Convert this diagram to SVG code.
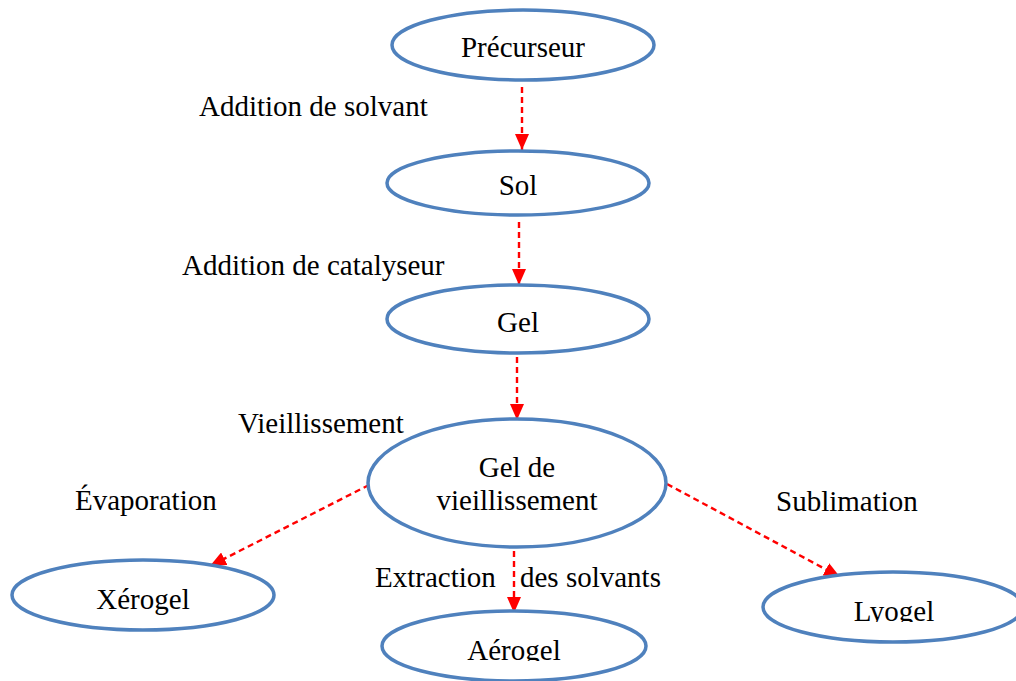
<svg xmlns="http://www.w3.org/2000/svg" width="1016" height="681" viewBox="0 0 1016 681">
  <style>
    .node { fill: #ffffff; stroke: #4f81bd; stroke-width: 3.5; }
    .lbl { font-family: "Liberation Serif", "Times New Roman", serif; font-size: 29px; fill: #000000; }
    .mid { text-anchor: middle; }
    .edge { fill: none; stroke: #ff0000; stroke-width: 2.4; stroke-dasharray: 6 4; marker-end: url(#head); }
  </style>
  <defs>
    <marker id="head" viewBox="0 0 16 14" refX="16" refY="7" markerWidth="16" markerHeight="14" markerUnits="userSpaceOnUse" orient="auto">
      <path d="M0,0 L16,7 L0,14 Z" fill="#ff0000"/>
    </marker>
    <!-- text boxes that cut off descenders -->
    <clipPath id="clipAero"><rect x="380" y="600" width="270" height="61"/></clipPath>
    <clipPath id="clipLyo"><rect x="760" y="560" width="260" height="62"/></clipPath>
  </defs>
  <rect width="1016" height="681" fill="#ffffff"/>

  <g id="connectors">
    <line class="edge" x1="522" y1="87" x2="522" y2="150"/>
    <line class="edge" x1="519" y1="222" x2="519" y2="285"/>
    <line class="edge" x1="517" y1="357" x2="517" y2="420"/>
    <line class="edge" x1="369" y1="485" x2="210" y2="566"/>
    <line class="edge" x1="514" y1="551" x2="514" y2="613"/>
    <line class="edge" x1="667" y1="484" x2="840" y2="577"/>
  </g>

  <g id="labels">
    <text class="lbl" x="199" y="116">Addition de solvant</text>
    <text class="lbl" x="182" y="275">Addition de catalyseur</text>
    <text class="lbl" x="238" y="433">Vieillissement</text>
    <text class="lbl" x="75" y="510">Évaporation</text>
    <text class="lbl" x="776" y="511">Sublimation</text>
    <text class="lbl" x="375" y="587">Extraction</text>
    <text class="lbl" x="520" y="587">des solvants</text>
  </g>

  <g id="precurseur">
    <ellipse class="node" cx="523" cy="45" rx="131" ry="35"/>
    <text class="lbl mid" x="523" y="57">Précurseur</text>
  </g>
  <g id="sol">
    <ellipse class="node" cx="518" cy="183" rx="131" ry="32"/>
    <text class="lbl mid" x="518" y="195">Sol</text>
  </g>
  <g id="gel">
    <ellipse class="node" cx="518" cy="319" rx="131" ry="34"/>
    <text class="lbl mid" x="518" y="332">Gel</text>
  </g>
  <g id="gel-vieillissement">
    <ellipse class="node" cx="517" cy="483" rx="149" ry="64"/>
    <text class="lbl mid" x="517" y="477">Gel de</text>
    <text class="lbl mid" x="517" y="510">vieillissement</text>
  </g>
  <g id="xerogel">
    <ellipse class="node" cx="143" cy="595" rx="131" ry="35"/>
    <text class="lbl mid" x="143" y="609">Xérogel</text>
  </g>
  <g id="aerogel">
    <ellipse class="node" cx="514" cy="646" rx="132" ry="35"/>
    <text class="lbl mid" x="514" y="660" clip-path="url(#clipAero)">Aérogel</text>
  </g>
  <g id="lyogel">
    <ellipse class="node" cx="893" cy="607" rx="130" ry="35"/>
    <text class="lbl mid" x="894" y="621" clip-path="url(#clipLyo)">Lyogel</text>
  </g>
</svg>
